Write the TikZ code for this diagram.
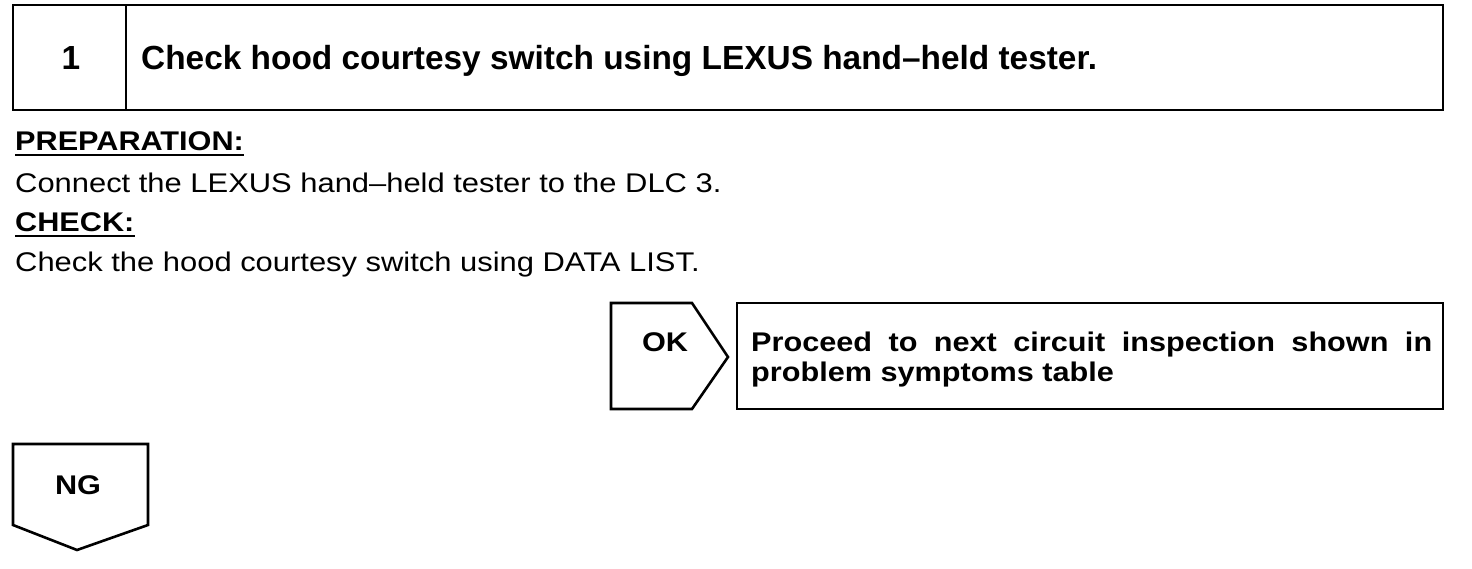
\documentclass[tikz,border=0pt]{standalone}
\usepackage{fontspec}
\setmainfont{Liberation Sans}
\newfontfamily\widefont{Liberation Sans}[FakeStretch=1.135]
\newfontfamily\widebody{Liberation Sans}[FakeStretch=1.145]
\begin{document}
\begin{tikzpicture}[x=1pt,y=-1pt,
  frame/.style={draw=black,line width=2.6pt,line join=miter},
  titlefont/.style={font=\fontsize{33.4}{36}\selectfont\bfseries,inner sep=0pt},
  headfont/.style={font=\widefont\fontsize{27}{30}\selectfont\bfseries,inner sep=0pt},
  bodyfont/.style={font=\widebody\fontsize{27}{30}\selectfont,inner sep=0pt},
  uline/.style={line width=2pt}]
\useasboundingbox (0,0) rectangle (1472,568);
% title box
\draw[frame] (13,5) rectangle (1443,110);
\draw[frame] (126,5) -- (126,110);
\node[titlefont,anchor=base] (num) at (71,69) {1};
\node[titlefont,anchor=base west] (title) at (141,69) {Check hood courtesy switch using LEXUS hand–held tester.};
% text
\node[headfont,anchor=base west] (prep) at (15,150) {PREPARATION:};
\draw[uline] ([yshift=-5pt]prep.base west) -- ([yshift=-5pt]prep.base east);
\node[bodyfont,anchor=base west] (conn) at (15,192) {Connect the LEXUS hand–held tester to the DLC 3.};
\node[headfont,anchor=base west] (chk) at (15,231) {CHECK:};
\draw[uline] ([yshift=-5pt]chk.base west) -- ([yshift=-5pt]chk.base east);
\node[bodyfont,anchor=base west] (chktxt) at (15,271) {Check the hood courtesy switch using DATA LIST.};
% OK arrow
\draw[frame] (611,303) -- (692,303) -- (728,357) -- (692,409) -- (611,409) -- cycle;
\node[headfont,anchor=base] (ok) at (665,351) {OK};
\draw[frame] (737,303) rectangle (1443,409);
\node[headfont,anchor=base west] (proc1) at (751,351) {\makebox[681pt][s]{Proceed to next circuit inspection shown in}};
\node[headfont,anchor=base west] (proc2) at (751,381) {problem symptoms table};
% NG arrow
\draw[frame] (13,444) -- (148,444) -- (148,525) -- (77,550) -- (13,525) -- cycle;
\node[headfont,anchor=base] (ng) at (78,494) {NG};
\end{tikzpicture}
\end{document}
